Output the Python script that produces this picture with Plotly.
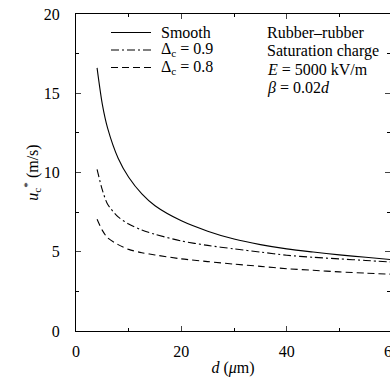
import plotly.graph_objects as go

d_vals = [4, 5, 6, 8, 10, 12.5, 15, 20, 25, 30, 35, 40, 45, 50, 55, 60]
smooth = [16.6, 14.3, 12.8, 10.9, 9.7, 8.65, 7.9, 6.95, 6.3, 5.8, 5.45, 5.18, 4.98, 4.8, 4.65, 4.5]
delta09 = [10.2, 8.9, 8.0, 7.2, 6.75, 6.37, 6.1, 5.68, 5.4, 5.18, 4.98, 4.78, 4.65, 4.55, 4.45, 4.35]
delta08 = [7.05, 6.35, 5.88, 5.45, 5.15, 4.94, 4.8, 4.55, 4.38, 4.22, 4.08, 3.93, 3.83, 3.73, 3.65, 3.58]

series_names = ["Smooth", "Δ<sub>c</sub> = 0.9", "Δ<sub>c</sub> = 0.8"]
series_dash = ["solid", "8px,3px,2px,3px", "7px,4px"]
note_lines = ["Rubber–rubber", "Saturation charge", "<i>E</i> = 5000 kV/m", "<i>β</i> = 0.02<i>d</i>"]

FONT = "Liberation Serif"
L, R, T, B, W, H = 76, 0, 14, 57, 390, 388
PW, PH = W - L - R, H - T - B


def px_x(p):
    return (p - L) / PW


def px_y(p):
    return (H - B - p) / PH


fig = go.Figure()
for name, ys, dash in zip(series_names, [smooth, delta09, delta08], series_dash):
    fig.add_trace(go.Scatter(x=d_vals, y=ys, mode="lines", name=name, showlegend=False,
                             line=dict(color="black", width=1.1, dash=dash, shape="spline", smoothing=0.8)))

fig.update_layout(
    width=W, height=H,
    margin=dict(l=L, r=R, t=T, b=B),
    paper_bgcolor="white", plot_bgcolor="white",
    font=dict(family=FONT, size=15, color="black"),
    showlegend=False,
)

# legend drawn as key lines + labels
for k, (name, dash) in enumerate(zip(series_names, series_dash)):
    row = 32.5 + 17.5 * k
    fig.add_shape(type="line", xref="paper", yref="paper",
                  x0=px_x(111), x1=px_x(151), y0=px_y(row), y1=px_y(row),
                  line=dict(color="black", width=1.1, dash=dash))
    fig.add_annotation(x=px_x(159), y=px_y(row), xref="paper", yref="paper",
                       xanchor="left", yanchor="middle", text=name, showarrow=False,
                       font=dict(size=16, family=FONT))

fig.update_xaxes(range=[0, 59.6], tickvals=[0, 20, 40], ticks="inside", ticklen=5,
                 showline=True, linecolor="black", linewidth=1, mirror="ticks",
                 showgrid=False, zeroline=False,
                 minor=dict(tickvals=[10, 30, 50], ticks="inside", ticklen=3, tickcolor="black"),
                 title=dict(text="<i>d</i> (<i>μ</i>m)", standoff=2, font=dict(size=16, family=FONT)),
                 tickfont=dict(size=16, family=FONT), ticklabelstandoff=6)
fig.update_yaxes(range=[0, 20], tickvals=[0, 5, 10, 15, 20], ticks="inside", ticklen=5,
                 showline=True, linecolor="black", linewidth=1, mirror="ticks",
                 showgrid=False, zeroline=False,
                 minor=dict(tickvals=[2.5, 7.5, 12.5, 17.5], ticks="inside", ticklen=3, tickcolor="black"),
                 title=dict(text="<i>u</i><sub>c</sub><sup>*</sup> (m/s)", standoff=1, font=dict(size=16, family=FONT)),
                 tickfont=dict(size=16, family=FONT), ticklabelstandoff=12)

for k, line in enumerate(note_lines):
    fig.add_annotation(x=px_x(265), y=px_y(33 + 18.2 * k), xref="paper", yref="paper",
                       xanchor="left", yanchor="middle", text=line, showarrow=False, align="left",
                       font=dict(size=16, family=FONT))
fig.add_annotation(x=1.006, y=0, xref="paper", yref="paper", xanchor="center", yanchor="top",
                   yshift=-10, text="60", showarrow=False, font=dict(size=16, family=FONT))

fig.write_html("out.html")
